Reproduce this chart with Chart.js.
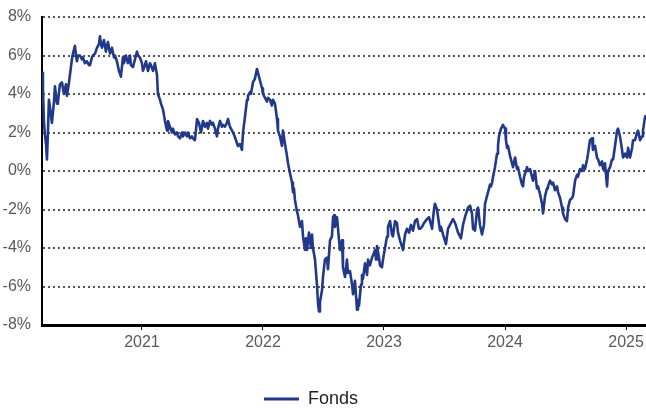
<!DOCTYPE html>
<html>
<head>
<meta charset="utf-8">
<script src="https://cdn.jsdelivr.net/npm/chart.js@4"></script>
<style>
  html, body { margin: 0; padding: 0; background: #fff; }
  #wrap { width: 646px; height: 408px; }
</style>
</head>
<body>
<div id="wrap"><canvas id="chart"></canvas></div>
<script>
// --- données (date en années décimales, perf en %) ---
const dates = [
  2020.174, 2020.182, 2020.190, 2020.198, 2020.207, 2020.215, 2020.223, 2020.231, 2020.240, 2020.256,
  2020.273, 2020.281, 2020.298, 2020.306, 2020.322, 2020.339, 2020.355, 2020.372, 2020.380, 2020.397,
  2020.405, 2020.421, 2020.430, 2020.446, 2020.455, 2020.463, 2020.471, 2020.488, 2020.504, 2020.512,
  2020.529, 2020.545, 2020.562, 2020.570, 2020.587, 2020.595, 2020.612, 2020.628, 2020.645, 2020.653,
  2020.661, 2020.669, 2020.686, 2020.702, 2020.711, 2020.719, 2020.736, 2020.752, 2020.769, 2020.777,
  2020.793, 2020.810, 2020.826, 2020.843, 2020.851, 2020.868, 2020.884, 2020.901, 2020.909, 2020.926,
  2020.942, 2020.959, 2020.967, 2020.983, 2021.000, 2021.008, 2021.025, 2021.033, 2021.050, 2021.066,
  2021.074, 2021.091, 2021.107, 2021.124, 2021.132, 2021.149, 2021.157, 2021.174, 2021.190, 2021.207,
  2021.215, 2021.231, 2021.248, 2021.256, 2021.273, 2021.289, 2021.298, 2021.314, 2021.331, 2021.339,
  2021.355, 2021.372, 2021.380, 2021.397, 2021.413, 2021.421, 2021.438, 2021.455, 2021.471, 2021.488,
  2021.504, 2021.521, 2021.537, 2021.545, 2021.562, 2021.579, 2021.587, 2021.603, 2021.620, 2021.628,
  2021.645, 2021.661, 2021.669, 2021.686, 2021.702, 2021.711, 2021.727, 2021.744, 2021.760, 2021.777,
  2021.793, 2021.810, 2021.826, 2021.835, 2021.851, 2021.868, 2021.876, 2021.893, 2021.901, 2021.917,
  2021.934, 2021.950, 2021.959, 2021.975, 2021.992, 2022.000, 2022.017, 2022.033, 2022.041, 2022.058,
  2022.074, 2022.083, 2022.099, 2022.116, 2022.124, 2022.140, 2022.157, 2022.165, 2022.182, 2022.198,
  2022.207, 2022.223, 2022.240, 2022.248, 2022.256, 2022.264, 2022.281, 2022.289, 2022.306, 2022.322,
  2022.331, 2022.347, 2022.355, 2022.364, 2022.380, 2022.397, 2022.405, 2022.413, 2022.430, 2022.446,
  2022.455, 2022.463, 2022.471, 2022.488, 2022.496, 2022.512, 2022.529, 2022.537, 2022.554, 2022.570,
  2022.579, 2022.587, 2022.595, 2022.612, 2022.620, 2022.636, 2022.653, 2022.661, 2022.678, 2022.694,
  2022.702, 2022.719, 2022.736, 2022.744, 2022.760, 2022.777, 2022.785, 2022.793, 2022.810, 2022.818,
  2022.826, 2022.843, 2022.860, 2022.868, 2022.884, 2022.901, 2022.909, 2022.926, 2022.934, 2022.942,
  2022.959, 2022.967, 2022.983, 2022.992, 2023.008, 2023.025, 2023.033, 2023.050, 2023.066, 2023.074,
  2023.091, 2023.107, 2023.116, 2023.132, 2023.157, 2023.174, 2023.190, 2023.207, 2023.223, 2023.240,
  2023.256, 2023.273, 2023.289, 2023.298, 2023.314, 2023.331, 2023.355, 2023.372, 2023.397, 2023.413,
  2023.421, 2023.438, 2023.463, 2023.471, 2023.488, 2023.512, 2023.529, 2023.545, 2023.570, 2023.587,
  2023.612, 2023.636, 2023.653, 2023.669, 2023.694, 2023.711, 2023.727, 2023.736, 2023.752, 2023.769,
  2023.777, 2023.793, 2023.810, 2023.826, 2023.835, 2023.851, 2023.860, 2023.876, 2023.884, 2023.893,
  2023.901, 2023.917, 2023.934, 2023.942, 2023.950, 2023.967, 2023.983, 2024.000, 2024.008, 2024.017,
  2024.025, 2024.041, 2024.058, 2024.066, 2024.083, 2024.099, 2024.107, 2024.124, 2024.140, 2024.149,
  2024.157, 2024.182, 2024.190, 2024.207, 2024.231, 2024.248, 2024.264, 2024.273, 2024.289, 2024.306,
  2024.314, 2024.331, 2024.347, 2024.355, 2024.372, 2024.388, 2024.397, 2024.413, 2024.430, 2024.438,
  2024.455, 2024.471, 2024.479, 2024.496, 2024.512, 2024.521, 2024.537, 2024.554, 2024.562, 2024.579,
  2024.595, 2024.603, 2024.620, 2024.636, 2024.645, 2024.661, 2024.678, 2024.686, 2024.702, 2024.719,
  2024.727, 2024.744, 2024.760, 2024.769, 2024.785, 2024.802, 2024.810, 2024.826, 2024.843, 2024.851,
  2024.868, 2024.884, 2024.893, 2024.909, 2024.926, 2024.934, 2024.950, 2024.967, 2024.975, 2024.992,
  2025.008, 2025.017, 2025.033, 2025.050, 2025.058, 2025.074, 2025.091, 2025.099, 2025.116, 2025.132,
  2025.140, 2025.157, 2025.165
];
const fonds = [
  5.1, 4.2, 2.6, 1.9, 1.4, 0.6, 2.0, 3.7, 3.3, 2.5,
  3.6, 4.4, 3.5, 3.6, 4.5, 4.6, 4.0, 4.5, 3.9, 4.6,
  5.0, 5.8, 6.1, 6.5, 6.0, 5.7, 6.0, 6.0, 5.8, 5.9,
  5.6, 5.7, 5.5, 5.5, 5.9, 6.0, 6.1, 6.4, 6.6, 7.0,
  6.6, 6.4, 6.8, 6.2, 6.5, 6.7, 6.1, 6.4, 5.9, 6.0,
  5.7, 5.2, 4.9, 5.9, 5.6, 6.0, 5.6, 6.0, 5.5, 5.4,
  5.8, 6.2, 6.0, 5.9, 5.6, 5.2, 5.5, 5.7, 5.2, 5.6,
  5.5, 5.2, 5.6, 5.0, 4.0, 3.7, 3.5, 3.2, 2.6, 2.1,
  2.6, 2.3, 2.0, 2.2, 1.9, 2.0, 1.8, 1.7, 2.0, 1.8,
  2.0, 1.8, 2.0, 1.7, 1.8, 1.7, 1.6, 2.7, 2.5, 2.0,
  2.6, 2.3, 2.5, 2.2, 2.6, 2.4, 2.5, 2.2, 1.8, 2.2,
  2.6, 2.3, 2.4, 2.3, 2.5, 2.7, 2.3, 2.1, 1.9, 1.6,
  1.3, 1.4, 1.1, 2.0, 2.8, 3.7, 3.9, 4.1, 4.0, 4.6,
  4.8, 5.3, 5.1, 4.7, 4.3, 4.0, 3.8, 3.6, 3.8, 3.7,
  3.4, 3.7, 3.5, 2.7, 2.1, 1.8, 1.3, 2.1, 1.4, 0.8,
  0.4, -0.1, -0.6, -1.1, -0.9, -1.5, -2.1, -2.3, -2.9, -2.6,
  -3.4, -4.1, -3.5, -4.1, -3.2, -4.0, -3.3, -4.0, -4.6, -5.9,
  -6.9, -7.3, -6.8, -6.2, -5.5, -4.6, -4.5, -5.1, -3.6, -3.4,
  -2.4, -2.3, -2.9, -2.4, -3.0, -4.1, -3.6, -5.0, -5.5, -4.6,
  -5.3, -5.2, -5.9, -6.4, -5.7, -7.2, -6.7, -7.0, -5.9, -5.4,
  -5.6, -4.8, -5.4, -4.6, -4.9, -4.5, -4.5, -4.1, -4.6, -3.9,
  -4.5, -4.9, -5.0, -4.6, -4.0, -3.4, -2.9, -2.6, -3.3, -3.4,
  -2.6, -2.7, -3.2, -3.6, -4.1, -3.3, -3.0, -3.2, -2.8, -3.1,
  -2.6, -2.5, -3.0, -3.0, -2.9, -2.7, -2.5, -2.4, -3.0, -2.0,
  -1.7, -2.0, -3.1, -2.9, -3.3, -3.8, -3.0, -2.8, -2.5, -2.7,
  -3.2, -3.5, -2.8, -2.4, -1.9, -1.8, -2.2, -3.0, -3.1, -2.0,
  -1.9, -2.8, -3.3, -2.8, -1.7, -1.3, -1.1, -0.7, -0.8, -0.6,
  -0.3, 0.2, 0.9, 1.3, 1.8, 2.2, 2.4, 2.2, 1.6, 1.2,
  1.3, 0.8, 0.4, 0.2, 0.7, 0.1, 0.2, -0.3, -0.7, -0.8,
  -0.3, 0.2, 0.0, 0.1, -0.5, 0.0, -0.9, -0.8, -1.2, -1.7,
  -2.2, -1.3, -0.9, -0.8, -0.5, -0.7, -0.6, -1.0, -0.8, -1.1,
  -1.4, -1.9, -2.2, -2.5, -2.6, -1.9, -1.5, -1.4, -1.3, -0.5,
  -0.2, -0.3, 0.1, 0.0, 0.3, 0.1, 0.6, 0.9, 1.6, 1.7,
  1.1, 1.3, 0.7, 0.6, 0.3, 0.5, 0.1, 0.4, -0.8, 0.0,
  0.2, 0.6, 0.6, 1.3, 2.1, 2.2, 1.8, 1.1, 0.7, 0.9,
  0.7, 1.2, 0.7, 1.2, 1.6, 1.6, 2.0, 2.1, 1.6, 1.8,
  2.1, 2.8, 2.9
];
const yearTicks = [2021, 2022, 2023, 2024, 2025];
const yTicks = [-8, -6, -4, -2, 0, 2, 4, 6, 8];
const seriesLabel = 'Fonds';

const FONT = "'Liberation Sans', Arial, sans-serif";
const NAVY = '#22388a';
const TICK = '#595959';

// recale la légende (un peu à gauche et plus bas) comme sur l'original
const moveLegend = {
  id: 'moveLegend',
  afterLayout(chart) {
    const lg = chart.legend;
    if (!lg) return;
    lg.left -= 12; lg.right -= 12;
    lg.top += 10; lg.bottom += 10;
  }
};

new Chart(document.getElementById('chart'), {
  type: 'line',
  data: {
    datasets: [{
      label: seriesLabel,
      data: dates.map((d, i) => ({ x: d, y: fonds[i] })),
      borderColor: NAVY,
      backgroundColor: NAVY,
      borderWidth: 2.6,
      pointRadius: 0,
      tension: 0,
      borderJoinStyle: 'round',
    }]
  },
  options: {
    responsive: true,
    maintainAspectRatio: false,
    animation: false,
    layout: { padding: { top: 17, left: 0, right: 0, bottom: 0 } },
    plugins: {
      tooltip: { enabled: false },
      legend: {
        position: 'bottom',
        labels: {
          color: '#222',
          font: { family: FONT, size: 18 },
          boxWidth: 35,
          boxHeight: 3,
          padding: 2,
          generateLabels: chart => Chart.defaults.plugins.legend.labels.generateLabels(chart)
            .map(l => ({ ...l, lineWidth: 0, fillStyle: NAVY })),
        }
      }
    },
    scales: {
      x: {
        type: 'linear',
        min: dates[0],
        max: dates[dates.length - 1],
        afterBuildTicks: axis => { axis.ticks = yearTicks.map(v => ({ value: v })); },
        afterFit: axis => { axis.height = 53; axis.paddingLeft = 0; axis.paddingRight = 0; },
        grid: { drawOnChartArea: false, drawTicks: true, tickLength: 5, color: '#000', lineWidth: 1 },
        border: { color: '#000', width: 3 },
        ticks: { color: TICK, font: { family: FONT, size: 16 }, padding: 3, maxRotation: 0, callback: v => String(v) },
      },
      y: {
        min: -8,
        max: 8,
        afterBuildTicks: axis => { axis.ticks = yTicks.map(v => ({ value: v })); },
        afterFit: axis => { axis.width = 42; axis.paddingTop = 0; axis.paddingBottom = 0; },
        grid: { color: '#555', lineWidth: 2, drawTicks: false },
        border: { color: '#000', width: 2, dash: [2, 3] },
        ticks: { color: TICK, font: { family: FONT, size: 16 }, padding: 11, callback: v => v + '%' },
      }
    }
  },
  plugins: [moveLegend]
});
</script>
</body>
</html>
